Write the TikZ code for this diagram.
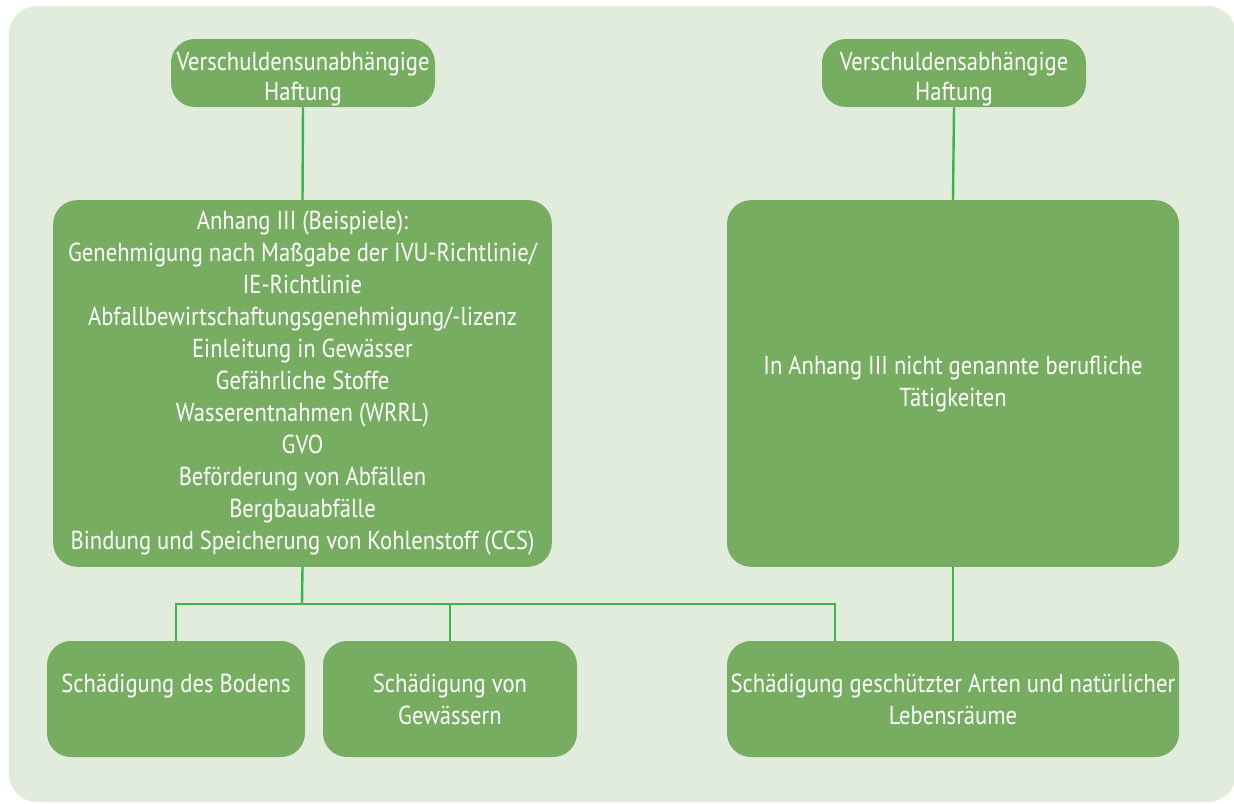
\documentclass[tikz,border=0pt]{standalone}
\usepackage{fontspec}
\setmainfont{PT Sans}[FakeStretch=0.87]
\usetikzlibrary{calc}
\definecolor{panelbg}{HTML}{E1ECDC}
\definecolor{boxgreen}{HTML}{76AD61}
\definecolor{linkgreen}{HTML}{3AB54A}

\begin{document}
\begin{tikzpicture}[x=0.75pt,y=-0.75pt,
  box/.style={fill=boxgreen, text=white, rounded corners=18pt, align=center,
    inner sep=0pt, font=\fontsize{19.5}{24}\selectfont},
  headbox/.style={box, minimum width=198pt, minimum height=51pt, label={[text=white,
    align=center, font=\fontsize{19.5}{23}\selectfont, yshift=-4.5pt]center:#1}},
  link/.style={draw=linkgreen, line width=1.8pt}]
  \useasboundingbox (0,0) rectangle (1234,803);
  \fill[panelbg, rounded corners=21pt] (9,6) rectangle (1236,802);

  % liability types
  \node[headbox={Verschuldensunabhängige\\Haftung}] (strict) at (303,73) {};
  \node[headbox={Verschuldensabhängige\\Haftung}] (fault) at (954,73) {};

  % activities
  \node[box, minimum width=374pt, minimum height=275pt] (annex) at (302.5,383.5)
    {Anhang III (Beispiele):\\Genehmigung nach Maßgabe der IVU-Richtlinie/\\IE-Richtlinie\\
     Abfallbewirtschaftungsgenehmigung/-lizenz\\Einleitung in Gewässer\\Gefährliche Stoffe\\
     Wasserentnahmen (WRRL)\\GVO\\Beförderung von Abfällen\\Bergbauabfälle\\
     Bindung und Speicherung von Kohlenstoff (CCS)};
  \node[box, minimum width=339pt, minimum height=275pt] (other) at (953,383.5)
    {In Anhang III nicht genannte berufliche\\Tätigkeiten};

  % damage types
  \node[box, minimum width=193.5pt, minimum height=87pt] (soil) at (176,699) {Schädigung des Bodens\\\mbox{}};
  \node[box, minimum width=190.5pt, minimum height=87pt] (water) at (450,699) {Schädigung von\\Gewässern};
  \node[box, minimum width=339pt, minimum height=87pt] (species) at (953,699)
    {Schädigung geschützter Arten und natürlicher\\Lebensräume};

  \coordinate (bus) at (302,604);
  \coordinate (speciestap) at ($(species.north west)!0.239!(species.north east)$);
  \draw[link] (strict.south) -- (annex.north);
  \draw[link] (fault.south) -- (other.north);
  \draw[link] (other.south) -- (species.north);
  \draw[link] (annex.south) -- (bus);
  \draw[link] (soil.north) |- (bus) -| (speciestap);
  \draw[link] (water.north) -- (water.north |- bus);
\end{tikzpicture}
\end{document}
